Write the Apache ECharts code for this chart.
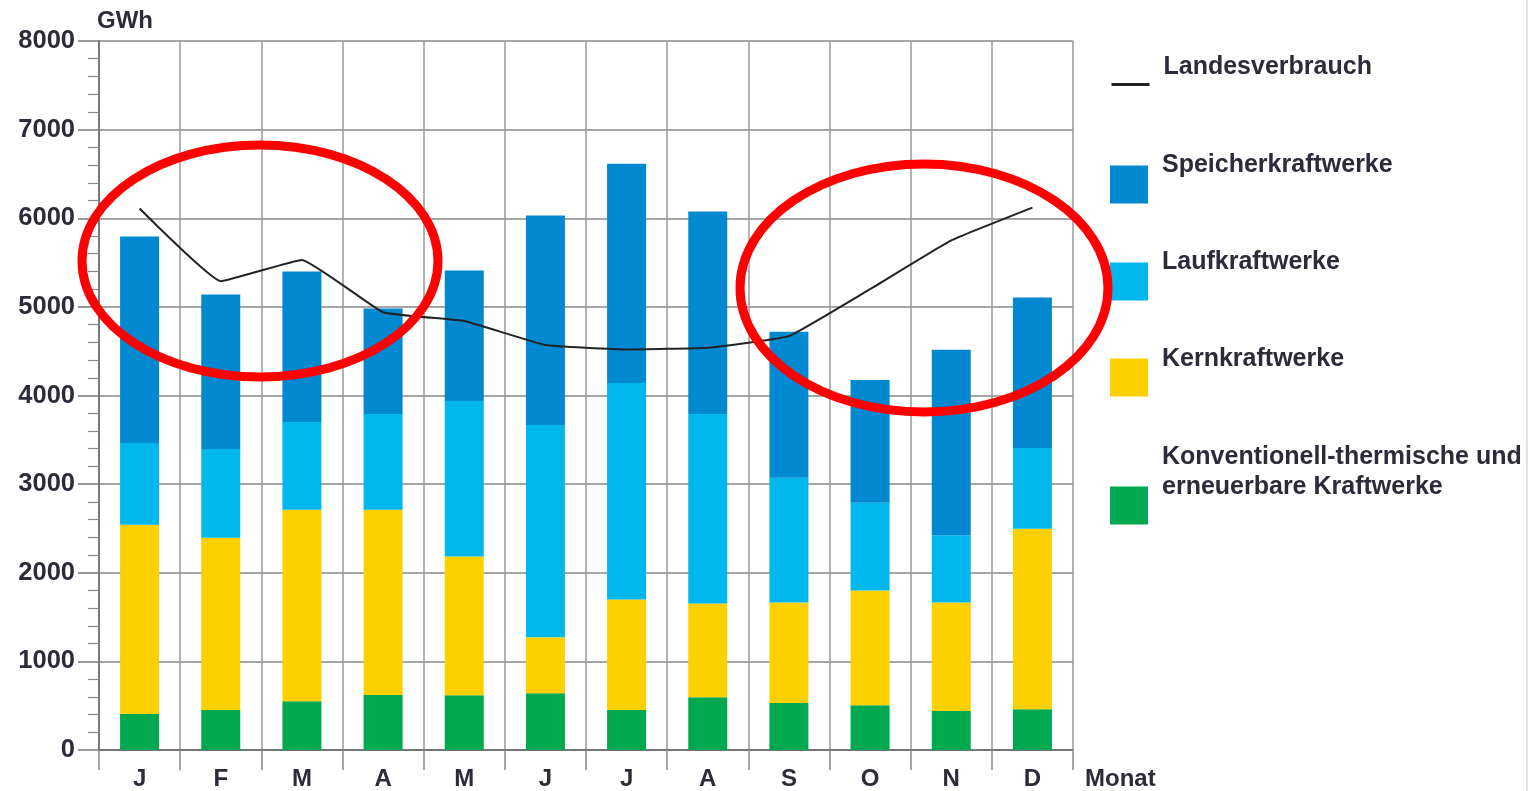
<!DOCTYPE html>
<html>
<head>
<meta charset="utf-8">
<script src="https://cdn.jsdelivr.net/npm/echarts@6/dist/echarts.min.js"></script>
<style>
html,body{margin:0;padding:0;background:#fff;}
#c{width:1531px;height:791px;}
</style>
</head>
<body>
<div id="c"></div>
<script>
var months = ['J','F','M','A','M','J','J','A','S','O','N','D'];
var yTicks = [0,1000,2000,3000,4000,5000,6000,7000,8000];
var konventionell = [405, 450, 551, 620, 619, 641, 450, 596, 529, 506, 439, 461];
var kern = [2137, 1946, 2160, 2091, 1563, 630, 1249, 1058, 1136, 1294, 1226, 2036];
var lauf = [923, 1001, 990, 1080, 1755, 2396, 2441, 2137, 1406, 990, 757, 912];
var speicher = [2328, 1744, 1699, 1192, 1474, 2364, 2474, 2285, 1647, 1384, 2093, 1698];
var landesverbrauch = [6110, 5290, 5530, 4940, 4840, 4570, 4520, 4540, 4670, 5200, 5750, 6120];

var names = ['Landesverbrauch','Speicherkraftwerke','Laufkraftwerke','Kernkraftwerke','Konventionell-thermische und erneuerbare Kraftwerke'];
var colors = {green:'#00a84f', yellow:'#fdd000', light:'#00b7ee', dark:'#0089d0'};
var txt = '#2b2b3a';
var fontBold = "'Liberation Sans', Arial, sans-serif";

function legendFor(name, top, gap, isLine) {
  var l = {
    data: [name], left: 1110, top: top, padding: 0, orient: 'vertical',
    itemWidth: 38, itemHeight: 38, selectedMode: false,
    formatter: function (n) {
      if (n === names[4]) return '{t|Konventionell-thermische und}\n{t|erneuerbare Kraftwerke}\n{g| }';
      return '{t|' + n + '}\n{g| }';
    },
    textStyle: {color: txt, padding: [0, 0, 0, 9],
      rich: {
        t: {fontFamily: fontBold, fontWeight: 'bold', fontSize: 25, lineHeight: 30, color: txt},
        g: {fontSize: 10, lineHeight: gap}
      }}
  };
  if (isLine) {
    l.lineStyle = {width: 3, color: '#222'};
    l.itemStyle = {color: 'rgba(0,0,0,0)', borderWidth: 0, opacity: 0};
  } else {
    l.icon = 'rect';
  }
  return l;
}

var chart = echarts.init(document.getElementById('c'));
chart.setOption({
  animation: false,
  backgroundColor: '#fff',
  grid: {left: 99, right: 458, top: 41, bottom: 39, containLabel: false},
  legend: [
    legendFor(names[0], 55, 34, true),
    legendFor(names[1], 153, 38),
    legendFor(names[2], 250, 38),
    legendFor(names[3], 347, 36),
    legendFor(names[4], 445, 66)
  ],
  xAxis: {
    type: 'category', data: months,
    name: 'Monat', nameLocation: 'end', nameGap: 12,
    nameTextStyle: {fontFamily: fontBold, fontWeight: 'bold', fontSize: 24, color: txt,
      align: 'left', verticalAlign: 'top', padding: [17, 0, 0, 0]},
    axisLine: {lineStyle: {color: '#666', width: 1.5}},
    axisTick: {show: true, interval: 0, length: 20, lineStyle: {color: '#888', width: 1.5}},
    axisLabel: {fontFamily: fontBold, fontWeight: 'bold', fontSize: 24, color: txt, margin: 17, interval: 0},
    splitLine: {show: true, interval: 0, lineStyle: {color: '#999', width: 1.5}}
  },
  yAxis: {
    type: 'value', min: yTicks[0], max: yTicks[yTicks.length - 1], interval: 1000,
    name: 'GWh', nameLocation: 'end', nameGap: 20,
    nameTextStyle: {fontFamily: fontBold, fontWeight: 'bold', fontSize: 24, color: txt,
      align: 'left', verticalAlign: 'middle', padding: [0, 0, 0, -2]},
    axisLine: {show: true, lineStyle: {color: '#666', width: 1.5}},
    axisTick: {show: true, length: 21, lineStyle: {color: '#777', width: 1.5}},
    minorTick: {show: true, splitNumber: 5, length: 11, lineStyle: {color: '#888', width: 1.2}},
    axisLabel: {fontFamily: fontBold, fontWeight: 'bold', fontSize: 25.5, color: txt, margin: 24,
      formatter: function (v) { return String(v); }},
    splitLine: {show: true, lineStyle: {color: '#888', width: 1.5}}
  },
  series: [
    {name: names[4], type: 'bar', stack: 's', barWidth: 39, data: konventionell, itemStyle: {color: colors.green}},
    {name: names[3], type: 'bar', stack: 's', barWidth: 39, data: kern, itemStyle: {color: colors.yellow}},
    {name: names[2], type: 'bar', stack: 's', barWidth: 39, data: lauf, itemStyle: {color: colors.light}},
    {name: names[1], type: 'bar', stack: 's', barWidth: 39, data: speicher, itemStyle: {color: colors.dark}},
    {name: names[0], type: 'line', data: landesverbrauch, symbol: 'none', smooth: 0.1,
      lineStyle: {color: '#222', width: 2}, itemStyle: {color: '#222'}, z: 5}
  ],
  graphic: [
    {type: 'ellipse', z: 100, shape: {cx: 260, cy: 261, rx: 178, ry: 116},
      style: {fill: 'none', stroke: '#ff0000', lineWidth: 9}},
    {type: 'ellipse', z: 100, shape: {cx: 924, cy: 288, rx: 184, ry: 124},
      style: {fill: 'none', stroke: '#ff0000', lineWidth: 9}},
    {type: 'line', z: 1, shape: {x1: 1527, y1: 0, x2: 1527, y2: 791},
      style: {stroke: '#e2e2e2', lineWidth: 2}}
  ]
});
</script>
</body>
</html>
